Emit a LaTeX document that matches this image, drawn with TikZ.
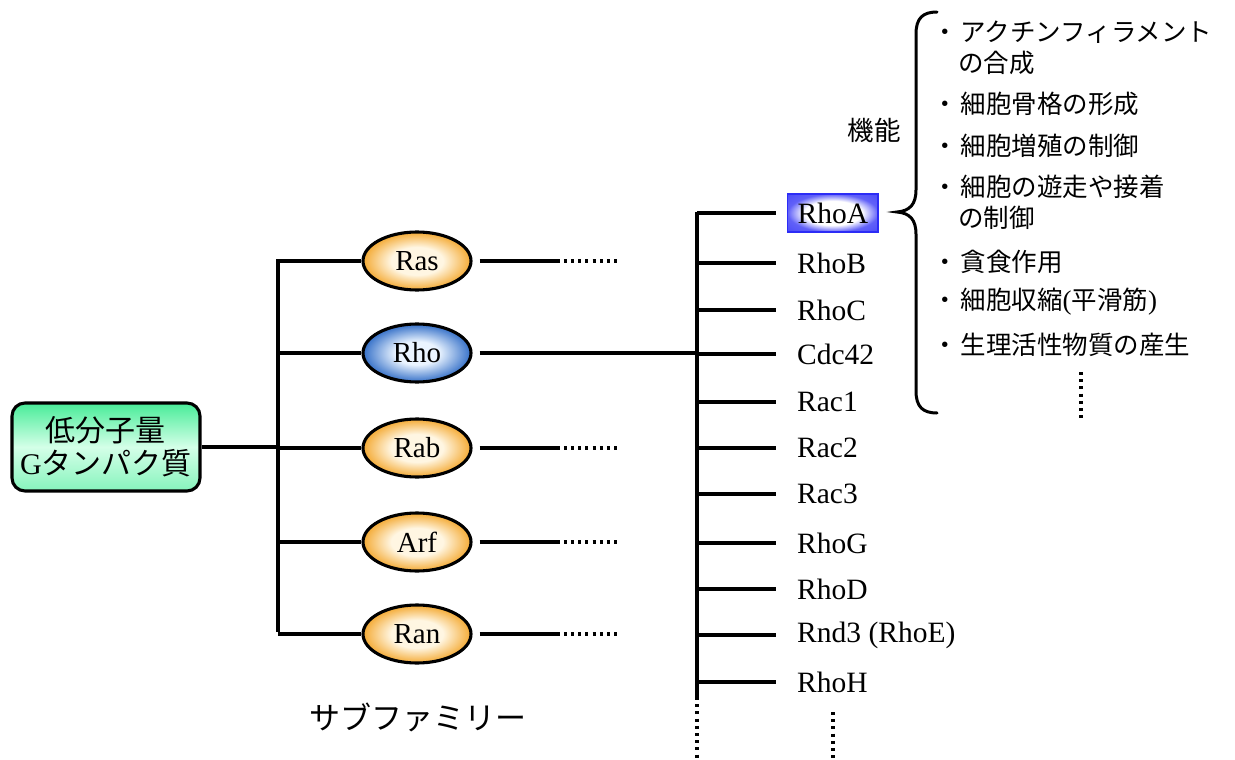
\documentclass[tikz,border=0pt]{standalone}
\usepackage{fontspec}
\setmainfont{Liberation Serif}
\newfontfamily\jp{Noto Sans CJK JP}
\usetikzlibrary{shapes.geometric}
\definecolor{orout}{HTML}{F4AA34}
\definecolor{orin}{HTML}{FFF6E2}
\definecolor{blout}{HTML}{3570C8}
\definecolor{blin}{HTML}{EAF4FF}
\definecolor{gtop}{HTML}{48EC98}
\definecolor{gmid}{HTML}{D4FFE8}
\definecolor{gbot}{HTML}{86F4BC}
\definecolor{rabord}{HTML}{2C2CF6}
\pgfdeclareradialshading{orshade}{\pgfpoint{0bp}{0bp}}{color(0bp)=(orin); color(12bp)=(orin); color(25bp)=(orout); color(50bp)=(orout)}
\pgfdeclareradialshading{blshade}{\pgfpoint{0bp}{0bp}}{color(0bp)=(blin); color(10bp)=(blin); color(25bp)=(blout); color(50bp)=(blout)}
\pgfdeclareradialshading{rashade}{\pgfpoint{0bp}{0bp}}{color(0bp)=(white); color(16bp)=(white); color(25bp)=(rabord!75); color(50bp)=(rabord)}
\tikzset{
  conn/.style={line width=3.1pt},
  dotline/.style={line width=3.1pt, dash pattern=on 3pt off 4.2pt},
  rootbox/.style={draw, line width=3.1pt, rounded corners=13pt, minimum width=188pt, minimum height=88pt,
     top color=gtop, bottom color=gbot, middle color=gmid, align=center, font=\fontsize{30}{35}\selectfont, inner sep=0pt},
  subfam/.style={ellipse, draw, line width=3.1pt, minimum width=108pt, minimum height=58pt, inner sep=0pt,
     font=\fontsize{29}{30}\selectfont},
  orangefill/.style={shading=orshade},
  bluefill/.style={shading=blshade},
  member/.style={anchor=west, inner xsep=10pt, inner ysep=0pt, minimum height=38pt, font=\fontsize{29.5}{30}\selectfont},
  rhoabox/.style={draw=rabord, line width=1.4pt, shading=rashade},
  func/.style={anchor=west, inner sep=0pt, font=\jp\fontsize{25.5}{30}\selectfont},
}
\newcommand{\bul}{・\hspace{3pt}}
\begin{document}
\begin{tikzpicture}[x=1pt,y=-1pt]
\useasboundingbox (0,0) rectangle (1235,760);

% root
\node[rootbox] (root) at (106,447) {{\jp 低分子量}\\[-2pt]G{\jp タンパク質}};

% subfamilies
\node[subfam, orangefill] (ras) at (417,261) {Ras};
\node[subfam, bluefill]   (rho) at (417,353) {Rho};
\node[subfam, orangefill] (rab) at (417,448) {Rab};
\node[subfam, orangefill] (arf) at (417,542) {Arf};
\node[subfam, orangefill] (ran) at (417,634) {Ran};

% left trunk
\coordinate (jA) at (278,259);
\coordinate (jC) at (278,447);
\coordinate (jE) at (278,632);
\draw[conn] (root.east) -- (jC);
\draw[conn] (jA) -- (jE);
\foreach \n in {ras,rho,rab,arf,ran}{
  \draw[conn] (jA |- \n.west) -- (\n.west);
}
% right continuation lines
\foreach \n in {ras,rab,arf,ran}{
  \coordinate (\n s) at ([xshift=7pt]\n.east);
  \coordinate (\n m) at ([xshift=84pt]\n.east);
  \coordinate (\n d) at ([xshift=147pt]\n.east);
  \draw[conn] (\n s) -- (\n m);
  \draw[dotline] (\n m) -- (\n d);
}

% members
\node[member, rhoabox] (rhoA) at (787,213) {RhoA};
\node[member] (rhoB) at (787,263) {RhoB};
\node[member] (rhoC) at (787,310) {RhoC};
\node[member] (cdc) at (787,354) {Cdc42};
\node[member] (rac1) at (787,402) {Rac1};
\node[member] (rac2) at (787,448) {Rac2};
\node[member] (rac3) at (787,494) {Rac3};
\node[member] (rhoG) at (787,543) {RhoG};
\node[member] (rhoD) at (787,589) {RhoD};
\node[member] (rnd) at (787,635) {Rnd3 (RhoE)};
\node[member] (rhoH) at (787,682) {RhoH};

\coordinate (kTop) at (697,212);
\coordinate (kBot) at (697,697);
\coordinate (kEnd) at (697,760);
\coordinate (kRho) at (697,353);
\draw[conn] ([xshift=7pt]rho.east) -- (kRho);
\draw[conn] (kTop) -- (kBot);
\draw[dotline] (kBot) -- (kEnd);
\foreach \n in {rhoA,rhoB,rhoC,cdc,rac1,rac2,rac3,rhoG,rhoD,rnd,rhoH}{
  \draw[conn] (kTop |- \n.west) -- ([xshift=-11pt]\n.west);
}
\coordinate (mdA) at (833,712);
\coordinate (mdB) at (833,760);
\draw[dotline] (mdA) -- (mdB);

% subfamily label
\node[font=\jp\fontsize{31}{32}\selectfont] (subl) at (418,717) {サブファミリー};

% brace
\draw[line width=3pt, line cap=round]
  (937,12) .. controls (923,12) and (916,18) .. (916,34) -- (916,190)
  .. controls (916,204) and (910,211) .. (897,212)
  .. controls (910,213) and (916,220) .. (916,234) -- (916,391)
  .. controls (916,407) and (923,413) .. (937,413);

\node[font=\jp\fontsize{26.5}{30}\selectfont] (kino) at (874,130) {機能};

% function list
\node[func] (f1) at (932,32) {\bul アクチンフィラメント};
\node[func] (f1b) at (958,63) {の合成};
\node[func] (f2) at (932,104) {\bul 細胞骨格の形成};
\node[func] (f3) at (932,146) {\bul 細胞増殖の制御};
\node[func] (f4) at (932,187) {\bul 細胞の遊走や接着};
\node[func] (f4b) at (958,218) {の制御};
\node[func] (f5) at (932,262) {\bul 貪食作用};
\node[func] (f6) at (932,302) {\bul 細胞収縮{\rmfamily\fontsize{27}{30}\selectfont(}平滑筋{\rmfamily\fontsize{27}{30}\selectfont)}};
\node[func] (f7) at (932,345) {\bul 生理活性物質の産生};
\coordinate (fdA) at (1081,372);
\coordinate (fdB) at (1081,420);
\draw[dotline] (fdA) -- (fdB);
\end{tikzpicture}
\end{document}
